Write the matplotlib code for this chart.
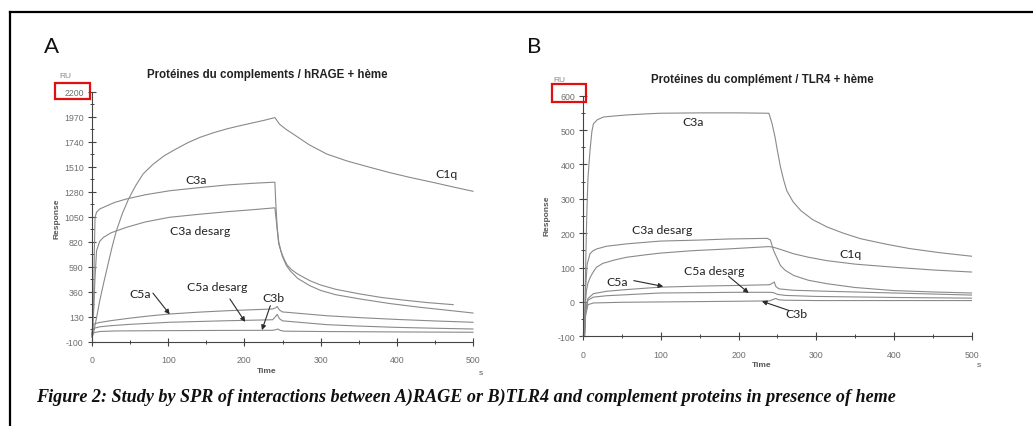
import numpy as np
import matplotlib.pyplot as plt
from matplotlib.patches import Rectangle
from matplotlib.lines import Line2D

plt.rcParams['axes.unicode_minus'] = False

W, H = 1033, 427

# ---- panel A : complement proteins on hRAGE + heme (RU vs s) ----
a_c1q_t = [0, 2, 6, 10, 15, 20, 26, 32, 40, 48, 57, 67, 80, 95, 110, 126, 142, 160, 178,
           194, 210, 226, 240, 246, 255, 264, 285, 308, 335, 365, 390, 417, 450, 475, 500]
a_c1q_v = [-60, -20, 120, 270, 429, 580, 760, 919, 1080, 1211, 1330, 1441, 1530, 1610, 1670,
           1730, 1779, 1822, 1858, 1885, 1910, 1935, 1960, 1900, 1850, 1809, 1710, 1625, 1560,
           1502, 1455, 1410, 1360, 1320, 1282]

a_c3a_t = [0, 2, 3, 4, 6, 10, 20, 30, 45, 70, 102, 140, 177, 210, 237, 240, 241, 243, 245,
           248, 252, 256, 262, 270, 286, 300, 320, 352, 380, 410, 440, 474]
a_c3a_v = [-50, 200, 700, 1043, 1090, 1119, 1150, 1180, 1211, 1250, 1287, 1315, 1340, 1355,
           1365, 1365, 1200, 950, 820, 730, 660, 605, 560, 520, 459, 420, 380, 337, 305, 280,
           258, 239]

a_c3ad_t = [0, 2, 4, 6, 10, 15, 25, 45, 70, 102, 140, 177, 210, 237, 240, 242, 245, 250, 255,
            260, 270, 286, 300, 320, 352, 390, 430, 470, 500]
a_c3ad_v = [-50, 150, 490, 735, 820, 858, 900, 950, 1000, 1043, 1070, 1094, 1112, 1128, 1130,
            1000, 800, 680, 600, 551, 480, 413, 370, 330, 291, 250, 215, 185, 162]

a_c5a_t = [0, 2, 10, 24, 50, 75, 102, 140, 177, 210, 237, 241, 243, 246, 250, 270, 308, 350,
           400, 450, 500]
a_c5a_v = [-30, 61, 75, 91, 115, 135, 153, 170, 183, 192, 199, 210, 222, 190, 172, 160, 137,
           120, 103, 89, 77]

a_c5ad_t = [0, 2, 10, 24, 50, 102, 177, 237, 241, 243, 246, 250, 280, 308, 350, 400, 450, 500]
a_c5ad_v = [-40, 20, 35, 45, 58, 77, 91, 100, 130, 150, 110, 90, 72, 55, 42, 30, 22, 15]

a_c3b_t = [0, 2, 10, 30, 100, 177, 237, 241, 244, 247, 252, 300, 400, 500]
a_c3b_v = [-60, -20, -8, -3, 0, 2, 3, 8, 15, 2, -5, -8, -12, -15]

# ---- panel B : complement proteins on TLR4 + heme ----
b_c3a_t = [0, 1.5, 3, 4.4, 6, 8.6, 11, 13, 18, 26, 40, 56, 80, 99, 150, 200, 237, 239, 243,
           247, 250, 254, 258, 262, 270, 280, 295, 314, 335, 357, 390, 421, 460, 500]
b_c3a_v = [-100, -100, 100, 247, 360, 440, 495, 518, 530, 538, 541, 544, 547, 549, 550, 550,
           549, 549, 520, 479, 440, 392, 355, 324, 292, 266, 240, 218, 200, 184, 168, 155,
           143, 133]

b_c3ad_t = [0, 1.5, 3, 5, 8.6, 12, 17, 30, 56, 99, 150, 185, 237, 241, 245, 250, 254, 260,
            271, 290, 314, 350, 400, 450, 500]
b_c3ad_v = [-100, -100, 40, 110, 140, 148, 154, 162, 169, 177, 180, 183, 185, 180, 150, 125,
            106, 92, 77, 63, 53, 42, 33, 29, 26]

b_c1q_t = [0, 1.5, 3, 4, 6, 9, 13, 17, 25, 40, 56, 80, 99, 140, 185, 239, 245, 255, 271, 290,
           314, 350, 400, 450, 500]
b_c1q_v = [-100, -100, 0, 33, 55, 72, 88, 101, 112, 122, 130, 137, 142, 149, 154, 161, 159,
           152, 140, 130, 120, 110, 101, 93, 87]

b_c5a_t = [0, 1.5, 3, 6, 13, 30, 56, 99, 150, 200, 240, 244, 246, 248, 252, 270, 314, 400, 500]
b_c5a_v = [-100, -100, -20, 10, 24, 31, 36, 43, 46, 48, 50, 55, 58, 45, 38, 34, 31, 26, 20]

b_c5ad_t = [0, 1.5, 3, 6, 13, 30, 56, 99, 150, 200, 240, 245, 250, 260, 300, 400, 500]
b_c5ad_v = [-100, -100, -30, 5, 14, 18, 21, 26, 27, 28, 28, 27, 22, 19, 16, 13, 11]

b_c3b_t = [0, 1.5, 3, 6, 13, 50, 100, 200, 240, 244, 248, 252, 260, 300, 400, 500]
b_c3b_v = [-100, -100, -40, -8, -3, -1, 0, 2, 3, 7, 10, 6, 5, 4, 4, 4]

a_yticks = [-100, 130, 360, 590, 820, 1050, 1280, 1510, 1740, 1970, 2200]
b_yticks = [-100, 0, 100, 200, 300, 400, 500, 600]
xticks = [0, 100, 200, 300, 400, 500]

LINE = '#8a8a8a'
TXT = '#6e6e6e'
LBL_FONT = ['Lato', 'DejaVu Sans']


def fx(x):
    return x / W


def fy(y):
    return 1 - y / H


def make_axes(fig, x0, x1, ytop, ybot, ylim, yticks, yminor):
    ax = fig.add_axes([fx(x0), fy(ybot), (x1 - x0) / W, (ybot - ytop) / H])
    ax.set_xlim(0, 500)
    ax.set_ylim(*ylim)
    for s in ['top', 'right']:
        ax.spines[s].set_visible(False)
    for s in ['left', 'bottom']:
        ax.spines[s].set_color('#444444')
        ax.spines[s].set_linewidth(0.8)
    ax.set_xticks(xticks)
    ax.set_xticks([50, 150, 250, 350, 450], minor=True)
    ax.set_yticks(yticks)
    ax.set_yticks(yminor, minor=True)
    ax.tick_params(which='major', direction='inout', length=6, width=0.8, color='#444444',
                   labelsize=6.3, labelcolor=TXT, pad=3)
    ax.tick_params(which='minor', direction='inout', length=3, width=0.7, color='#444444')
    ax.tick_params(axis='x', which='major', pad=7)
    for lab in ax.get_xticklabels() + ax.get_yticklabels():
        lab.set_family('Liberation Sans')
    ax.patch.set_alpha(0)
    return ax


def arrow(ax, start, tip):
    ax.annotate('', xy=tip, xytext=start,
                arrowprops=dict(arrowstyle='-|>', color='#2a2a2a', lw=0.8,
                                mutation_scale=7, shrinkA=0, shrinkB=0))


def label(ax, t, v, s):
    ax.text(t, v, s, ha='center', va='center', fontsize=8.8, family=LBL_FONT,
            color='#222222')


fig = plt.figure(figsize=(W / 100, H / 100), dpi=100)

# outer frame (only top and left edges fall inside the canvas)
fig.add_artist(Line2D([fx(10), fx(W + 5)], [fy(13), fy(13)], color='black', lw=1.6))
fig.add_artist(Line2D([fx(10), fx(10)], [fy(13), fy(H + 5)], color='black', lw=1.6))

# panel A
axA = make_axes(fig, 92, 473, 92.5, 342.5, (-100, 2200), a_yticks,
                [t + 115 for t in a_yticks[:-1]])
for t, v in [(a_c1q_t, a_c1q_v), (a_c3a_t, a_c3a_v), (a_c3ad_t, a_c3ad_v),
             (a_c5a_t, a_c5a_v), (a_c5ad_t, a_c5ad_v), (a_c3b_t, a_c3b_v)]:
    axA.plot(t, v, color=LINE, lw=0.8, clip_on=False)

label(axA, 137, 1395, 'C3a')
label(axA, 142, 919, 'C3a desarg')
label(axA, 465, 1447, 'C1q')
label(axA, 63, 337, 'C5a')
label(axA, 164, 404, 'C5a desarg')
label(axA, 238, 309, 'C3b')
arrow(axA, (80, 345), (102, 150))
arrow(axA, (181, 291), (201, 80))
arrow(axA, (234, 229), (223, 5))

# panel B
axB = make_axes(fig, 583.3, 971.5, 96.7, 337.3, (-100, 600), b_yticks,
                [t + 50 for t in b_yticks[:-1]])
for t, v in [(b_c3a_t, b_c3a_v), (b_c3ad_t, b_c3ad_v), (b_c1q_t, b_c1q_v),
             (b_c5a_t, b_c5a_v), (b_c5ad_t, b_c5ad_v), (b_c3b_t, b_c3b_v)]:
    axB.plot(t, v, color=LINE, lw=0.8, clip_on=False)

label(axB, 142, 526, 'C3a')
label(axB, 101, 211, 'C3a desarg')
label(axB, 344, 142, 'C1q')
label(axB, 44, 59, 'C5a')
label(axB, 168, 90, 'C5a desarg')
label(axB, 275, -35, 'C3b')
arrow(axB, (65, 62), (103, 45))
arrow(axB, (187, 75), (213, 26))
arrow(axB, (265, -25), (230, 2))

# titles, axis captions and panel letters
fig.text(fx(267), fy(75), 'Protéines du complements / hRAGE + hème', ha='center', va='center',
         fontsize=8.3, fontweight='bold', family='Liberation Sans', color='#222222')
fig.text(fx(762), fy(80), 'Protéines du complément / TLR4 + hème', ha='center', va='center',
         fontsize=8.3, fontweight='bold', family='Liberation Sans', color='#222222')

for xs, ys, xr, yr, xt, yt, xu, yu in [(481, 374, 57, 219, 267, 372, 65, 77),
                                       (979, 366, 547, 216, 762, 366, 559, 80)]:
    fig.text(fx(xt), fy(yt), 'Time', ha='center', va='center', fontsize=6,
             fontweight='bold', family='Liberation Sans', color='#555555')
    fig.text(fx(xs), fy(ys), 's', ha='center', va='center', fontsize=6,
             family='Liberation Sans', color='#555555')
    fig.text(fx(xr), fy(yr), 'Response', ha='center', va='center', rotation=90,
             fontsize=6, fontweight='bold', family='Liberation Sans', color='#555555')
    fig.text(fx(xu), fy(yu), 'RU', ha='center', va='center', fontsize=6,
             family='Liberation Sans', color='#888888')

fig.text(fx(52), fy(47), 'A', ha='center', va='center', fontsize=16, family=LBL_FONT,
         color='#111111')
fig.text(fx(534), fy(47), 'B', ha='center', va='center', fontsize=16, family=LBL_FONT,
         color='#111111')

# red boxes around the top y tick of each panel
for x0, y0, x1, y1 in [(55, 83.5, 90, 99.5), (551.7, 85, 586, 102.7)]:
    fig.add_artist(Rectangle((fx(x0), fy(y1)), (x1 - x0) / W, (y1 - y0) / H,
                             transform=fig.transFigure, fill=False, edgecolor='#e01010',
                             lw=1.6))

fig.text(fx(36), fy(397),
         'Figure 2: Study by SPR of interactions between A)RAGE or B)TLR4 and complement '
         'proteins in presence of heme',
         ha='left', va='center', fontsize=13.1, fontweight='bold', fontstyle='italic',
         family='Liberation Serif', color='#111111')

fig.savefig('out.png', dpi=100)
